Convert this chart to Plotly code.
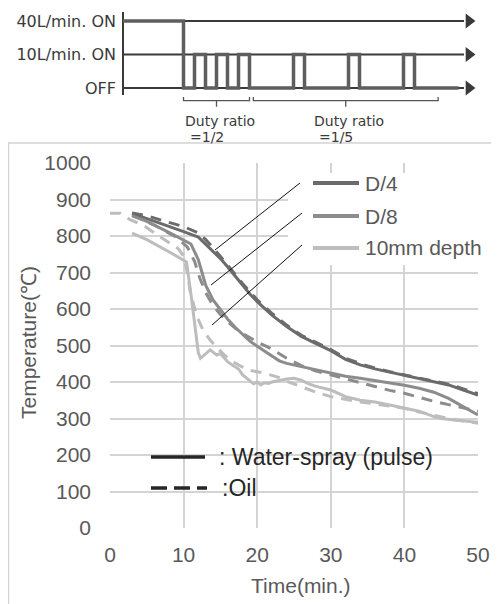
import plotly.graph_objects as go

# The page body has an 8px default margin, so the figure is drawn 8px in from the window edge.
PAGE_W, PAGE_H, OFF = 499, 604, 8
W, H = PAGE_W - OFF, PAGE_H - OFF

# ---------------- timing diagram data ----------------
signal_t = [0, 5.5, 6.5, 7.5, 8.5, 9.5, 10.5, 11.5, 15.5, 16.5, 20.5, 21.5, 25.5, 26.5, 30.5]
signal_level = [2, 0, 1, 0, 1, 0, 1, 0, 1, 0, 1, 0, 1, 0, 0]
level_values = [0, 1, 2]
level_labels = ["OFF", "10L/min. ON", "40L/min. ON"]
duty_groups = [(5.5, 11.5), (11.85, 28.65)]
duty_texts = ["=1/2", "=1/5"]

# ---------------- temperature data (time in min, temperature in degC) ----------------
d4_water_t = [3, 5, 8, 10, 12, 13, 14, 15, 16, 17, 18, 19, 20, 22, 24, 26, 28, 30, 32, 34, 36, 38, 40, 42, 44, 46, 48, 50]
d4_water_v = [862, 848, 828, 812, 797, 778, 758, 738, 715, 690, 665, 641, 620, 583, 552, 525, 505, 486, 462, 447, 436, 427, 418, 410, 401, 392, 378, 364]
d4_oil_t = [3, 5, 7, 10, 12, 13, 14, 15, 16, 18, 20, 22, 24, 26, 28, 30, 32, 35, 38, 40, 43, 46, 48, 50]
d4_oil_v = [863, 856, 843, 826, 808, 790, 768, 745, 720, 670, 625, 588, 556, 528, 508, 489, 465, 444, 428, 420, 408, 394, 381, 368]

d8_water_t = [3, 5, 8, 10, 11, 12, 13, 14, 15, 16, 17, 18, 19, 20, 21, 22, 23, 24, 26, 28, 30, 32, 34, 36, 38, 40, 42, 44, 46, 48, 50]
d8_water_v = [855, 840, 810, 790, 778, 735, 665, 625, 597, 572, 550, 530, 512, 498, 484, 470, 458, 451, 442, 434, 426, 416, 410, 404, 398, 391, 383, 372, 355, 333, 310]
d8_oil_t = [3, 6, 9, 10.5, 11.5, 12.2, 13, 14, 15, 16, 17, 18, 20, 22, 24, 26, 28, 30, 32, 34, 36, 38, 40, 42, 44, 46, 48, 50]
d8_oil_v = [858, 830, 797, 770, 730, 685, 645, 610, 585, 565, 548, 533, 510, 490, 465, 445, 430, 419, 408, 397, 386, 377, 369, 357, 347, 338, 328, 320]

mm10_water_t = [3, 5, 8, 10, 10.4, 11, 11.5, 12, 12.3, 13, 13.6, 14.5, 15, 16, 17, 17.5, 18, 18.5, 19, 19.5, 20, 20.5, 21, 21.5, 22, 23, 24, 25, 26, 27, 28, 30, 32, 34, 36, 38, 40, 42, 44, 45, 47, 50]
mm10_water_v = [808, 790, 757, 735, 729, 640, 560, 480, 465, 478, 488, 474, 478, 455, 442, 435, 420, 412, 405, 395, 400, 392, 398, 396, 400, 405, 408, 410, 405, 395, 388, 378, 360, 350, 345, 337, 328, 320, 305, 300, 295, 290]
mm10_oil_t = [0, 1.4, 2.7, 4.5, 7, 9.3, 10, 10.5, 10.9, 11.8, 12.7, 13.6, 14.5, 15.5, 16.5, 17.7, 19, 20.8, 22, 23, 24, 25, 26, 27, 28, 30, 32, 34, 36, 38, 40, 42, 44, 46, 48, 50]
mm10_oil_v = [862, 862, 845, 830, 795, 765, 745, 700, 647, 580, 540, 515, 495, 475, 458, 444, 432, 425, 418, 412, 402, 394, 386, 378, 372, 360, 352, 345, 340, 334, 328, 318, 308, 300, 293, 287]

series_names = ["D/4", "D/8", "10mm depth"]
series_colors = ["#6b6b6b", "#8c8c8c", "#bdbdbd"]
water = [(d4_water_t, d4_water_v), (d8_water_t, d8_water_v), (mm10_water_t, mm10_water_v)]
oil = [(d4_oil_t, d4_oil_v), (d8_oil_t, d8_oil_v), (mm10_oil_t, mm10_oil_v)]

x_ticks = [0, 10, 20, 30, 40, 50]
y_ticks = [0, 100, 200, 300, 400, 500, 600, 700, 800, 900, 1000]


def px(x):
    """page pixel x -> paper fraction"""
    return (x - OFF) / W


def py(y):
    """page pixel y -> paper fraction"""
    return (PAGE_H - y) / H


fig = go.Figure()

GRID = "#d4d4d4"

# temperature curves: dashed (oil) first, then solid (water spray)
for (t, v), col, name in zip(oil, series_colors, series_names):
    fig.add_trace(go.Scatter(x=t, y=v, mode="lines", name=name + " oil",
                             line=dict(color=col, width=3, dash="11px,8px"),
                             xaxis="x", yaxis="y", showlegend=False))
for (t, v), col, name in zip(water, series_colors, series_names):
    fig.add_trace(go.Scatter(x=t, y=v, mode="lines", name=name,
                             line=dict(color=col, width=3),
                             xaxis="x", yaxis="y", showlegend=False))

# ---------------- timing diagram traces ----------------
AX_COL = "#3a3a3a"
arrow_end = 31.0
for lv in level_values:
    fig.add_trace(go.Scatter(x=[0, arrow_end], y=[lv, lv], mode="lines",
                             line=dict(color=AX_COL, width=2),
                             xaxis="x2", yaxis="y2", showlegend=False, hoverinfo="skip"))
fig.add_trace(go.Scatter(x=[arrow_end + 0.45] * 3, y=level_values, mode="markers",
                         marker=dict(symbol="triangle-right", size=13, color=AX_COL),
                         xaxis="x2", yaxis="y2", showlegend=False, hoverinfo="skip", cliponaxis=False))
fig.add_trace(go.Scatter(x=[0, 0], y=[-0.21, 2.27], mode="lines",
                         line=dict(color=AX_COL, width=2),
                         xaxis="x2", yaxis="y2", showlegend=False, hoverinfo="skip"))
fig.add_trace(go.Scatter(x=signal_t, y=signal_level, mode="lines", line_shape="hv",
                         line=dict(color="#5e5e5e", width=3.5),
                         xaxis="x2", yaxis="y2", showlegend=False))
for (a, b) in duty_groups:
    m = (a + b) / 2
    fig.add_trace(go.Scatter(x=[a, a, b, b], y=[-0.27, -0.38, -0.38, -0.27], mode="lines",
                             line=dict(color="#555555", width=1.3),
                             xaxis="x2", yaxis="y2", showlegend=False, hoverinfo="skip"))
    fig.add_trace(go.Scatter(x=[m, m], y=[-0.38, -0.56], mode="lines",
                             line=dict(color="#555555", width=1.3),
                             xaxis="x2", yaxis="y2", showlegend=False, hoverinfo="skip"))

TICK_FONT = dict(family="Liberation Sans, Arial", size=21, color="#595959")

fig.update_layout(
    template="none",
    width=W, height=H, autosize=False,
    margin=dict(l=0, r=0, t=0, b=0, pad=0),
    paper_bgcolor="white", plot_bgcolor="white",
    xaxis=dict(domain=[px(110), px(478)], range=[0, 50], tickmode="array", tickvals=x_ticks,
               showgrid=True, gridcolor=GRID, gridwidth=2, zeroline=False,
               showline=False, ticks="", tickfont=TICK_FONT, ticklabelstandoff=12,
               anchor="y", fixedrange=True, automargin=False, layer="below traces"),
    yaxis=dict(domain=[py(528), py(163)], range=[0, 1000], tickmode="array", tickvals=y_ticks,
               showgrid=True, gridcolor=GRID, gridwidth=2, zeroline=False,
               showline=False, ticks="", tickfont=TICK_FONT, ticklabelstandoff=18,
               anchor="x", fixedrange=True, automargin=False, layer="below traces"),
    xaxis2=dict(domain=[px(118), 1], range=[-5 / 11, (PAGE_W - 123) / 11], visible=False,
                anchor="y2", fixedrange=True, automargin=False),
    yaxis2=dict(domain=[py(113.1), py(10.95)], range=[-0.75, 2.3], anchor="x2",
                tickmode="array", tickvals=level_values, ticktext=level_labels, showgrid=False,
                zeroline=False, showline=False, ticks="",
                tickfont=dict(family="DejaVu Sans", size=16, color="#3a3a3a"),
                ticklabelstandoff=1, fixedrange=True, automargin=False),
    showlegend=False,
)

shapes = []
# outer light box of the lower chart
shapes.append(dict(type="rect", xref="paper", yref="paper", x0=px(8.5), x1=px(530), y0=py(640), y1=py(143),
                   line=dict(color="#d4d4d4", width=1.5), layer="above"))
# white legend background
shapes.append(dict(type="rect", xref="paper", yref="paper", x0=px(288), x1=px(481), y0=py(265), y1=py(173),
                   line=dict(width=0), fillcolor="white", layer="above"))
# callout lines
for (x0, y0, x1, y1) in [(300, 183, 215, 250), (302, 213, 211, 285), (302, 245, 212, 325)]:
    shapes.append(dict(type="line", xref="paper", yref="paper", x0=px(x0), y0=py(y0), x1=px(x1), y1=py(y1),
                       line=dict(color="#111111", width=1), layer="above"))
# series legend samples
legend_rows = [183, 216, 248]
for yy, col in zip(legend_rows, series_colors):
    shapes.append(dict(type="line", xref="paper", yref="paper", x0=px(313), x1=px(359), y0=py(yy), y1=py(yy),
                       line=dict(color=col, width=4), layer="above"))
# water / oil legend samples
shapes.append(dict(type="line", xref="paper", yref="paper", x0=px(151), x1=px(205), y0=py(457), y1=py(457),
                   line=dict(color="#262626", width=3.5), layer="above"))
shapes.append(dict(type="line", xref="paper", yref="paper", x0=px(151), x1=px(207), y0=py(488), y1=py(488),
                   line=dict(color="#262626", width=3.5, dash="16px,7px"), layer="above"))
fig.update_layout(shapes=shapes)

ann = []
for yy, name in zip(legend_rows, series_names):
    ann.append(dict(xref="paper", yref="paper", x=px(363), y=py(yy), text=name, showarrow=False,
                    xanchor="left", yanchor="middle",
                    font=dict(family="Liberation Sans, Arial", size=21, color="#595959")))
ann.append(dict(xref="paper", yref="paper", x=px(217), y=py(457), text=": Water-spray (pulse)", showarrow=False,
                xanchor="left", yanchor="middle",
                font=dict(family="Liberation Sans, Arial", size=23, color="#262626")))
ann.append(dict(xref="paper", yref="paper", x=px(220), y=py(488), text=":Oil", showarrow=False,
                xanchor="left", yanchor="middle",
                font=dict(family="Liberation Sans, Arial", size=23, color="#262626")))
# axis titles
ann.append(dict(xref="paper", yref="paper", x=px(301), y=py(585), text="Time(min.)", showarrow=False,
                xanchor="center", yanchor="middle",
                font=dict(family="Liberation Sans, Arial", size=21, color="#595959")))
ann.append(dict(xref="paper", yref="paper", x=px(28), y=py(343), text="Temperature(℃)", showarrow=False,
                xanchor="center", yanchor="middle", textangle=-90,
                font=dict(family="Liberation Sans, Arial", size=21, color="#595959")))
# duty ratio texts
for (x_left, txt) in zip([183, 312], duty_texts):
    ann.append(dict(xref="paper", yref="paper", x=px(x_left), y=py(121), text="Duty ratio", showarrow=False,
                    xanchor="left", yanchor="middle",
                    font=dict(family="DejaVu Sans", size=14, color="#3a3a3a")))
    ann.append(dict(xref="paper", yref="paper", x=px(x_left + 5), y=py(137), text=txt, showarrow=False,
                    xanchor="left", yanchor="middle",
                    font=dict(family="DejaVu Sans", size=14, color="#3a3a3a")))
fig.update_layout(annotations=ann)

fig.write_html("out.html")
